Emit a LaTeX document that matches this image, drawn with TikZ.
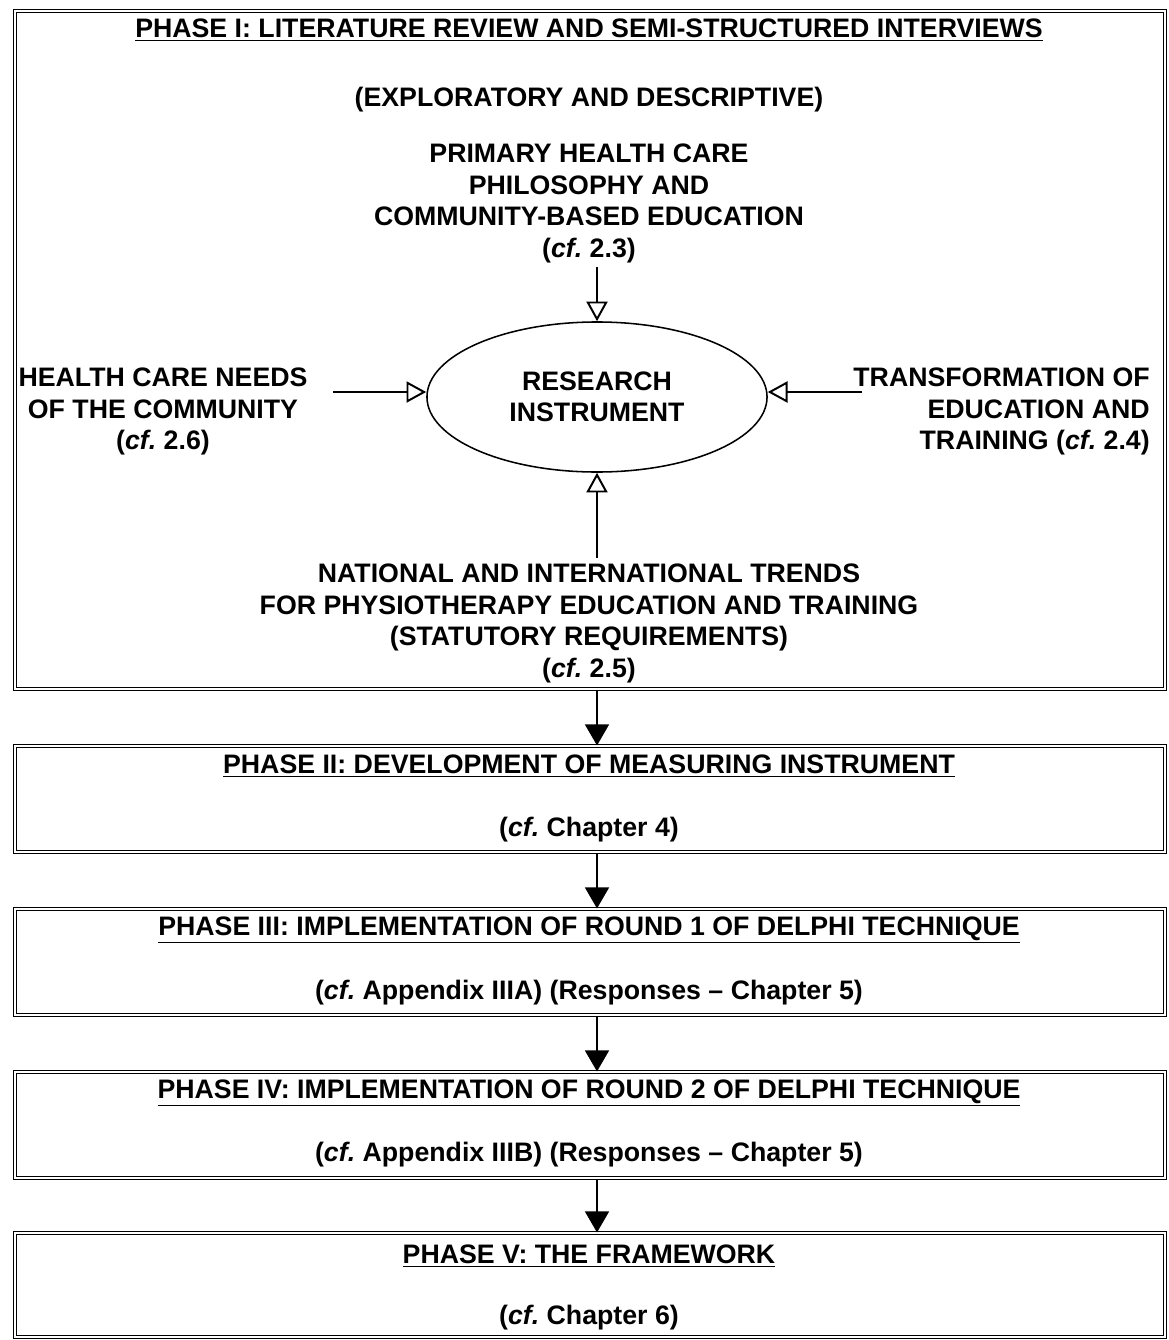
\documentclass[tikz,border=0pt]{standalone}
\usepackage{fontspec}
\setmainfont{Liberation Sans}
\usetikzlibrary{arrows.meta,shapes.geometric}
\newcommand{\cfx}{\textit{cf.}\ }
\begin{document}
\begin{tikzpicture}[x=0.025cm,y=-0.025cm,
  every node/.style={font=\bfseries\fontsize{19}{22.4}\selectfont, inner sep=0pt},
  phasebox/.style={draw, line width=0.7pt, double, double distance=1.4pt, rectangle, minimum width=28.75cm},
  label/.style={align=center},
  feed/.style={line width=1.4pt, -{Triangle[open, length=14pt, width=15pt, line width=1.4pt]}},
  flow/.style={line width=1.4pt, -{Triangle[length=15pt, width=17pt]}}]
\useasboundingbox (0,0) rectangle (1169,1340);

% phase boxes
\node[phasebox, minimum height=16.95cm] (p1) at (590,350) {};
\node[phasebox, minimum height=2.65cm]  (p2) at (590,799) {};
\node[phasebox, minimum height=2.65cm]  (p3) at (590,962) {};
\node[phasebox, minimum height=2.65cm]  (p4) at (590,1125) {};
\node[phasebox, minimum height=2.6cm]   (p5) at (590,1285) {};

% phase I contents
\node (t1) at (589,30) {\underline{PHASE I: LITERATURE REVIEW AND SEMI-STRUCTURED INTERVIEWS}};
\node (t1b) at (589,100) {(EXPLORATORY AND DESCRIPTIVE)};
\node[label, anchor=north] (phc) at (589,144) {PRIMARY HEALTH CARE\\PHILOSOPHY AND\\COMMUNITY-BASED EDUCATION\\(\cfx 2.3)};
\node[draw, ellipse, line width=1.1pt, minimum width=8.5cm, minimum height=3.75cm, label] (ri) at (597,397) {RESEARCH\\INSTRUMENT};
\node[label, anchor=north] (hcn) at (163,368) {HEALTH CARE NEEDS\\OF THE COMMUNITY\\(\cfx 2.6)};
\node[align=right, anchor=north east] (tet) at (1150,368) {TRANSFORMATION OF\\EDUCATION AND\\TRAINING (\cfx 2.4)};
\node[label, anchor=north] (nit) at (589,564) {NATIONAL AND INTERNATIONAL TRENDS\\FOR PHYSIOTHERAPY EDUCATION AND TRAINING\\(STATUTORY REQUIREMENTS)\\(\cfx 2.5)};

\coordinate (hcnend) at (333,392);
\coordinate (tetend) at (862,392);
\draw[feed] (phc.south -| ri.north) ++(0,4) -- (ri.north);
\draw[feed] (hcnend) -- (ri.west |- hcnend);
\draw[feed] (tetend) -- (ri.east |- tetend);
\draw[feed] (nit.north -| ri.south) ++(0,-6) -- (ri.south);

% later phases
\node (t2) at (589,766) {\underline{PHASE II: DEVELOPMENT OF MEASURING INSTRUMENT}};
\node (t2b) at (589,830) {(\cfx Chapter 4)};
\node (t3) at (589,930) {\underline{PHASE III: IMPLEMENTATION OF ROUND 1 OF DELPHI TECHNIQUE}};
\node (t3b) at (589,993) {(\cfx Appendix IIIA) (Responses -- Chapter 5)};
\node (t4) at (589,1093) {\underline{PHASE IV: IMPLEMENTATION OF ROUND 2 OF DELPHI TECHNIQUE}};
\node (t4b) at (589,1155) {(\cfx Appendix IIIB) (Responses -- Chapter 5)};
\node (t5) at (589,1256) {\underline{PHASE V: THE FRAMEWORK}};
\node (t5b) at (589,1318) {(\cfx Chapter 6)};

\draw[flow] (p1.south -| ri.south) -- (p2.north -| ri.south);
\draw[flow] (p2.south -| ri.south) -- (p3.north -| ri.south);
\draw[flow] (p3.south -| ri.south) -- (p4.north -| ri.south);
\draw[flow] (p4.south -| ri.south) -- (p5.north -| ri.south);
\end{tikzpicture}
\end{document}
